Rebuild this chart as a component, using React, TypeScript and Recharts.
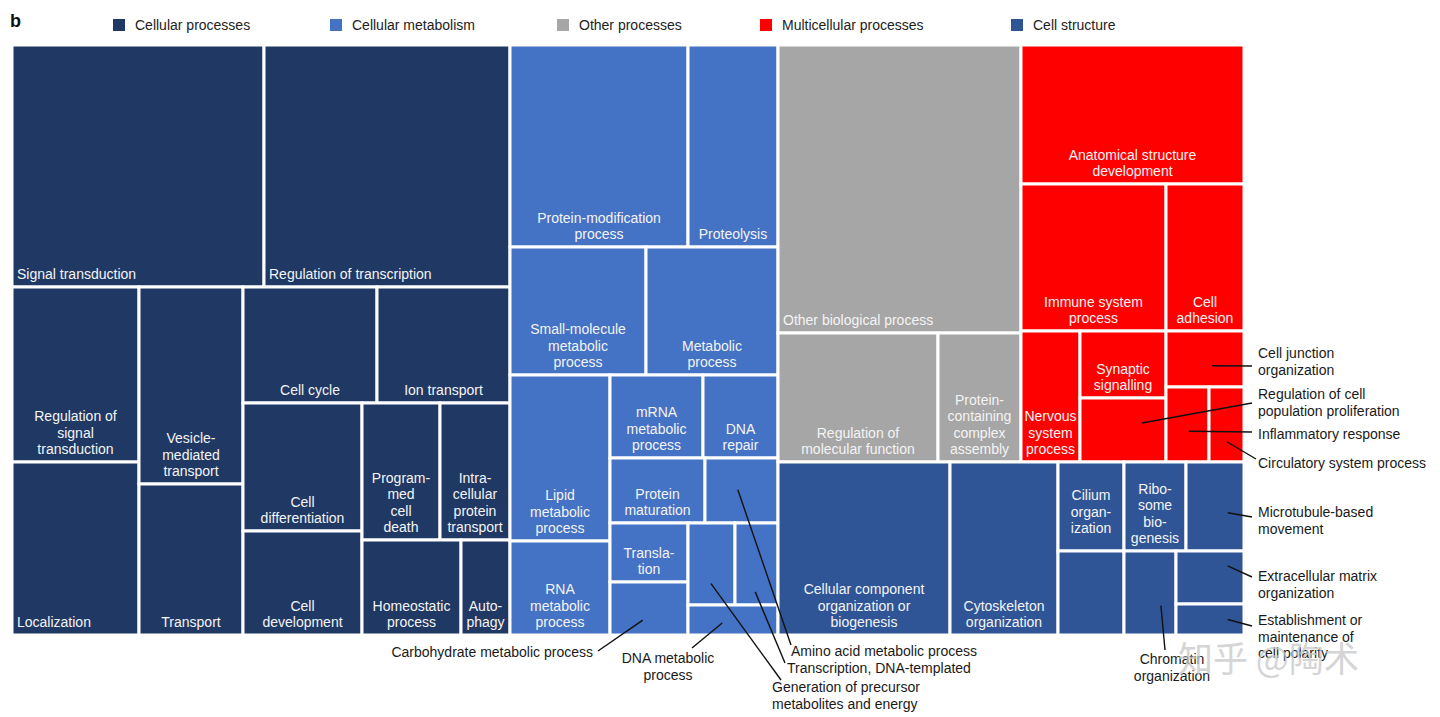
import React from 'react';
import { Treemap } from 'recharts';

const GROUPS = ['Cellular processes', 'Cellular metabolism', 'Other processes', 'Multicellular processes', 'Cell structure'];
const GROUP_COLORS = ['#203864', '#4472c4', '#a6a6a6', '#ff0000', '#2f5597'];

// cell areas
const cellularProcesses = [
  { name: 'Signal transduction', value: 60984 },
  { name: 'Regulation of transcription', value: 59532 },
  { name: 'Regulation of\nsignal\ntransduction', value: 22225 },
  { name: 'Localization', value: 21971 },
  { name: 'Vesicle-\nmediated\ntransport', value: 20488 },
  { name: 'Transport', value: 15704 },
  { name: 'Cell cycle', value: 15544 },
  { name: 'Ion transport', value: 15428 },
  { name: 'Cell\ndifferentiation', value: 15232 },
  { name: 'Cell\ndevelopment', value: 12376 },
  { name: 'Program-\nmed\ncell\ndeath', value: 10686 },
  { name: 'Intra-\ncellular\nprotein\ntransport', value: 9590 },
  { name: 'Homeostatic\nprocess', value: 9405 },
  { name: 'Auto-\nphagy', value: 4655 },
];

const cellularMetabolism = [
  { name: 'Protein-modification\nprocess', value: 35956 },
  { name: 'Proteolysis', value: 18180 },
  { name: 'Small-molecule\nmetabolic\nprocess', value: 17408 },
  { name: 'Metabolic\nprocess', value: 16896 },
  { name: 'Lipid\nmetabolic\nprocess', value: 16600 },
  { name: 'RNA\nmetabolic\nprocess', value: 9400 },
  { name: 'mRNA\nmetabolic\nprocess', value: 7719 },
  { name: 'DNA\nrepair', value: 6225 },
  { name: 'Protein\nmaturation', value: 6175 },
  { name: 'Amino acid metabolic process', value: 4745 },
  { name: 'Transla-\ntion', value: 4602 },
  { name: 'Carbohydrate metabolic process', value: 4134 },
  { name: 'Generation of precursor metabolites and energy', value: 3854 },
  { name: 'Transcription, DNA-templated', value: 3526 },
  { name: 'DNA metabolic process', value: 2700 },
];

const otherProcesses = [
  { name: 'Other biological process', value: 69984 },
  { name: 'Regulation of\nmolecular function', value: 20640 },
  { name: 'Protein-\ncontaining\ncomplex\nassembly', value: 10707 },
];

const multicellularProcesses = [
  { name: 'Anatomical structure\ndevelopment', value: 30997 },
  { name: 'Immune system\nprocess', value: 21315 },
  { name: 'Cell\nadhesion', value: 11466 },
  { name: 'Nervous\nsystem\nprocess', value: 7729 },
  { name: 'Synaptic\nsignalling', value: 5762 },
  { name: 'Regulation of cell population proliferation', value: 5504 },
  { name: 'Cell junction organization', value: 4368 },
  { name: 'Inflammatory response', value: 3225 },
  { name: 'Circulatory system process', value: 2625 },
];

const cellStructure = [
  { name: 'Cellular component\norganization or\nbiogenesis', value: 29756 },
  { name: 'Cytoskeleton\norganization', value: 18684 },
  { name: 'Cilium\norgan-\nization', value: 5874 },
  { name: 'Ribo-\nsome\nbio-\ngenesis', value: 5518 },
  { name: 'Microtubule-based movement', value: 5162 },
  { name: '', value: 5544 },
  { name: 'Chromatin organization', value: 4368 },
  { name: 'Extracellular matrix organization', value: 3604 },
  { name: 'Establishment or maintenance of cell polarity', value: 2108 },
];

// grouping of the cells (indices into the lists above), so squarify splits like the figure
type Spec = number | Spec[];
const CP_NEST: Spec[] = [0, 1, [2, 3, 4, 5, [6, 7, [8, 9, [[10, 11], [12, 13]]]]]];
const CM_NEST: Spec[] = [[0, 1], [2, 3, [4, 5, [6, 7, [8, 9, [10, 11, [12, 13, 14]]]]]]];
const OP_NEST: Spec[] = [0, [1, 2]];
const MP_NEST: Spec[] = [0, [1, 2, [3, [4, 5, [6, 7, 8]]]]];
const CS_NEST: Spec[] = [0, 1, [2, 5, [3, 4, [6, [7, 8]]]]];

const build = (spec: Spec, leaves: any[], group: number): any =>
  typeof spec === 'number'
    ? { ...leaves[spec], group }
    : { name: '', children: spec.map((s) => build(s, leaves, group)) };

const groupNode = (g: number, leaves: any[], nest: Spec[]) => ({
  name: GROUPS[g],
  children: nest.map((s) => build(s, leaves, g)),
});

const data = [
  groupNode(0, cellularProcesses, CP_NEST),
  groupNode(1, cellularMetabolism, CM_NEST),
  {
    name: '',
    children: [
      { name: '', children: [groupNode(2, otherProcesses, OP_NEST), groupNode(3, multicellularProcesses, MP_NEST)] },
      groupNode(4, cellStructure, CS_NEST),
    ],
  },
];

const OX = 12;
const OY = 45;
const W = 1232;
const H = 590;
const FONT = '"Liberation Sans", Arial, Helvetica, sans-serif';

const LEFT_LABELS = new Set(['Signal transduction', 'Regulation of transcription', 'Localization', 'Other biological process']);
const MIDDLE_LABELS = new Set(['Cilium\norgan-\nization']);

// labels outside the map, page coordinates
const CALLOUTS: Record<string, any> = {
  'Cell junction organization': { at: [0.59, 0.62], to: [1252, 366], text: [1258, 353], lines: ['Cell junction', 'organization'] },
  'Regulation of cell population proliferation': { at: [0.72, 0.39], to: [1252, 403], text: [1258, 394], lines: ['Regulation of cell', 'population proliferation'] },
  'Inflammatory response': { at: [0.53, 0.59], to: [1252, 432], text: [1258, 434], lines: ['Inflammatory response'] },
  'Circulatory system process': { at: [0.51, 0.73], to: [1256, 459], text: [1258, 463], lines: ['Circulatory system process'] },
  'Microtubule-based movement': { at: [0.72, 0.57], to: [1252, 517], text: [1258, 512], lines: ['Microtubule-based', 'movement'] },
  'Extracellular matrix organization': { at: [0.76, 0.28], to: [1252, 577], text: [1258, 576], lines: ['Extracellular matrix', 'organization'] },
  'Establishment or maintenance of cell polarity': { at: [0.76, 0.5], to: [1252, 626], text: [1258, 620], lines: ['Establishment or', 'maintenance of', 'cell polarity'] },
  'Chromatin organization': { at: [0.71, 0.65], to: [1165, 650], text: [1172, 659], anchor: 'middle', lines: ['Chromatin', 'organization'] },
  'Carbohydrate metabolic process': { at: [0.42, 0.72], to: [598, 651], text: [593, 652], anchor: 'end', lines: ['Carbohydrate metabolic process'] },
  'DNA metabolic process': { at: [0.38, 0.6], to: [692, 648], text: [668, 658], anchor: 'middle', lines: ['DNA metabolic', 'process'] },
  'Amino acid metabolic process': { at: [0.45, 0.49], to: [791, 645], text: [791, 651], lines: ['Amino acid metabolic process'] },
  'Transcription, DNA-templated': { at: [0.47, 0.84], to: [785, 663], text: [787, 668], lines: ['Transcription, DNA-templated'] },
  'Generation of precursor metabolites and energy': { at: [0.49, 0.74], to: [781, 680], text: [772, 687], lines: ['Generation of precursor', 'metabolites and energy'] },
};

const isLeaf = (p: any) => !(p.children && p.children.length) && p.group !== undefined;

const renderCell = (p: any) => {
  if (!isLeaf(p)) return null;
  const { x, y, width, height, name, group } = p;
  const lines = !name || CALLOUTS[name] ? [] : String(name).split('\n');
  const n = lines.length;
  const left = LEFT_LABELS.has(name);
  const firstCenter = MIDDLE_LABELS.has(name)
    ? y + height / 2 + 5 - ((n - 1) * 16.5) / 2
    : y + height - 13 - (n - 1) * 16.5;
  return (
    <g>
      <rect x={x} y={y} width={width} height={height} fill={GROUP_COLORS[group]} stroke="#fff" strokeWidth={3} />
      {lines.map((l, i) => (
        <text
          key={i}
          x={left ? x + 5 : x + width / 2}
          y={firstCenter + i * 16.5 + 5}
          textAnchor={left ? 'start' : 'middle'}
          fill="#f4f4f4"
          fontSize={14}
          fontFamily={FONT}
        >
          {l}
        </text>
      ))}
    </g>
  );
};

const renderCallout = (p: any) => {
  if (!isLeaf(p)) return null;
  const c = CALLOUTS[p.name];
  if (!c) return null;
  const sx = p.x + p.width * c.at[0];
  const sy = p.y + p.height * c.at[1];
  return (
    <g>
      <line x1={sx} y1={sy} x2={c.to[0] - OX} y2={c.to[1] - OY} stroke="#111" strokeWidth={1.4} />
      {c.lines.map((l: string, i: number) => (
        <text
          key={i}
          x={c.text[0] - OX}
          y={c.text[1] - OY + i * 16.5 + 5}
          textAnchor={c.anchor || 'start'}
          fill="#1a1a1a"
          fontSize={14}
          fontFamily={FONT}
        >
          {l}
        </text>
      ))}
    </g>
  );
};

const LEGEND_X = [113, 330, 557, 760, 1011];

export default function App() {
  return (
    <div style={{ position: 'absolute', left: 0, top: 0, width: 1440, height: 717, background: '#fff', fontFamily: FONT }}>
      <style>{'.recharts-surface{overflow:visible}'}</style>
      <svg width={1440} height={44} style={{ position: 'absolute', left: 0, top: 0 }}>
        <text x={10} y={27} fontSize={18} fontWeight="bold" fontFamily={FONT} fill="#111">
          b
        </text>
        {GROUPS.map((g, i) => (
          <g key={g}>
            <rect x={LEGEND_X[i]} y={19} width={12} height={12} fill={GROUP_COLORS[i]} />
            <text x={LEGEND_X[i] + 22} y={30} fontSize={14} fontFamily={FONT} fill="#222">
              {g}
            </text>
          </g>
        ))}
      </svg>
      <div style={{ position: 'absolute', left: OX, top: OY }}>
        <Treemap
          width={W}
          height={H}
          data={data}
          dataKey="value"
          nameKey="name"
          aspectRatio={1}
          isAnimationActive={false}
          content={renderCell}
        />
      </div>
      <div style={{ position: 'absolute', left: OX, top: OY, pointerEvents: 'none' }}>
        <Treemap
          width={W}
          height={H}
          data={data}
          dataKey="value"
          nameKey="name"
          aspectRatio={1}
          isAnimationActive={false}
          content={renderCallout}
        />
      </div>
      <svg width={1440} height={717} style={{ position: 'absolute', left: 0, top: 0, pointerEvents: 'none' }}>
        <text x={1178} y={672} fontSize={35} fontFamily='"Noto Sans CJK SC", sans-serif' fill="#c8c8c8" opacity={0.75}>
          知乎 @陶术
        </text>
      </svg>
    </div>
  );
}
